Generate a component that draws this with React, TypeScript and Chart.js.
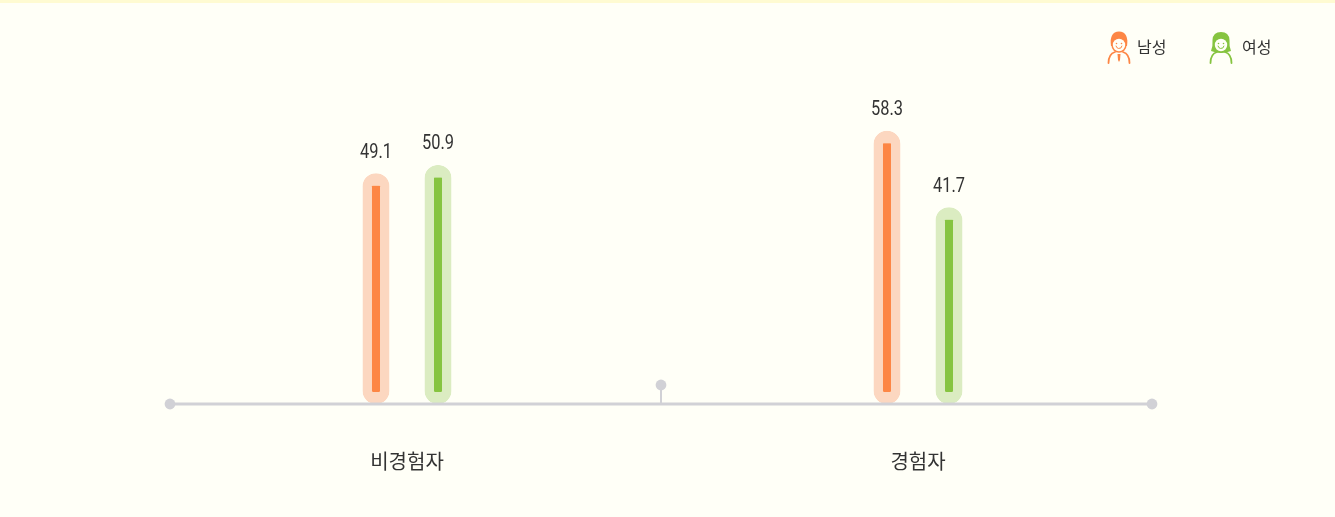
import React, { useEffect, useRef } from "react";
import { Chart, registerables } from "chart.js";

Chart.register(...registerables);

const categories = ["비경험자", "경험자"];
const maleValues = [49.1, 58.3];
const femaleValues = [50.9, 41.7];
const seriesNames = ["남성", "여성"];

const BG = "#FFFFF7";
const BAND = "#FFFBD2";
const AXIS = "#D1D1D6";
const TEXT = "#333333";
const ORANGE = "#FD8645";
const ORANGE_PALE = "#FCD7C0";
const GREEN = "#86C440";
const GREEN_PALE = "#DBECC1";
const KR = '"Noto Sans CJK KR", "Noto Sans", sans-serif';
const NUM = 'Roboto, sans-serif';

function drawPerson(ctx: CanvasRenderingContext2D, cx: number, color: string, female: boolean) {
  ctx.save();
  ctx.strokeStyle = color;
  ctx.fillStyle = color;
  ctx.lineWidth = 1.8;
  ctx.lineCap = "round";
  // body
  ctx.beginPath();
  ctx.moveTo(cx - 10.5, 63);
  ctx.quadraticCurveTo(cx - 10.5, 54, cx - 4, 52);
  ctx.moveTo(cx + 10.5, 63);
  ctx.quadraticCurveTo(cx + 10.5, 54, cx + 4, 52);
  ctx.stroke();
  // hair
  ctx.beginPath();
  if (female) {
    ctx.moveTo(cx - 10, 51);
    ctx.quadraticCurveTo(cx - 8, 46, cx - 8.5, 40);
    ctx.quadraticCurveTo(cx - 8, 32, cx, 32);
    ctx.quadraticCurveTo(cx + 8, 32, cx + 8.5, 40);
    ctx.quadraticCurveTo(cx + 8, 46, cx + 10, 51);
    ctx.quadraticCurveTo(cx, 55, cx - 10, 51);
  } else {
    ctx.moveTo(cx - 8, 46);
    ctx.quadraticCurveTo(cx - 10, 32, cx, 31.5);
    ctx.quadraticCurveTo(cx + 10, 32, cx + 8, 46);
    ctx.closePath();
  }
  ctx.fill();
  // face
  ctx.beginPath();
  ctx.ellipse(cx, 45, 7.6, 7.8, 0, 0, Math.PI * 2);
  ctx.fillStyle = color;
  ctx.fill();
  ctx.fillStyle = BG;
  ctx.beginPath();
  ctx.ellipse(cx, 45, 6.2, 6.2, 0, 0, Math.PI * 2);
  ctx.fill();
  ctx.fillStyle = color;
  ctx.beginPath();
  ctx.arc(cx - 2.5, 43.5, 0.8, 0, Math.PI * 2);
  ctx.arc(cx + 2.5, 43.5, 0.8, 0, Math.PI * 2);
  ctx.fill();
  ctx.lineWidth = 1;
  ctx.beginPath();
  ctx.arc(cx, 45.5, 3, 0.2, Math.PI - 0.2);
  ctx.stroke();
  if (!female) {
    ctx.beginPath();
    ctx.moveTo(cx - 1.5, 54);
    ctx.lineTo(cx + 1.5, 54);
    ctx.lineTo(cx + 1, 60);
    ctx.lineTo(cx, 62);
    ctx.lineTo(cx - 1, 60);
    ctx.closePath();
    ctx.fill();
  }
  ctx.restore();
}

const decor = {
  id: "decor",
  beforeDraw(chart: any) {
    const { ctx, width, height } = chart;
    ctx.save();
    ctx.fillStyle = BG;
    ctx.fillRect(0, 0, width, height);
    ctx.fillStyle = BAND;
    ctx.fillRect(0, 0, width, 3);
    ctx.restore();
  },
  afterDatasetsDraw(chart: any) {
    const { ctx, chartArea } = chart;
    const y = chartArea.bottom;
    const left = chartArea.left + 18.5;
    const right = chartArea.right - 21.5;
    const mid = (left + right) / 2;
    ctx.save();
    ctx.strokeStyle = AXIS;
    ctx.fillStyle = AXIS;
    ctx.lineWidth = 3;
    ctx.beginPath();
    ctx.moveTo(left, y);
    ctx.lineTo(right, y);
    ctx.stroke();
    ctx.lineWidth = 2;
    ctx.beginPath();
    ctx.moveTo(mid, y);
    ctx.lineTo(mid, y - 19);
    ctx.stroke();
    for (const [px, py] of [[left, y], [right, y], [mid, y - 19]]) {
      ctx.beginPath();
      ctx.arc(px, py, 5.4, 0, Math.PI * 2);
      ctx.fill();
    }
    // value labels (the reference uses a condensed numeral face)
    ctx.fillStyle = TEXT;
    ctx.font = `20px ${NUM}`;
    ctx.textAlign = "center";
    ctx.textBaseline = "middle";
    chart.data.datasets.forEach((ds: any, i: number) => {
      chart.getDatasetMeta(i).data.forEach((el: any, j: number) => {
        ctx.save();
        ctx.translate(el.x, el.y - 20.5);
        ctx.scale(0.82, 1);
        ctx.fillText(ds.data[j].toFixed(1), 0, 0);
        ctx.restore();
      });
    });
    // legend
    drawPerson(ctx, 1119, ORANGE, false);
    drawPerson(ctx, 1221, GREEN, true);
    ctx.fillStyle = TEXT;
    ctx.font = `16px ${KR}`;
    ctx.textAlign = "left";
    ctx.fillText(seriesNames[0], 1137, 47);
    ctx.fillText(seriesNames[1], 1242, 47);
    ctx.restore();
  },
};

export default function App() {
  const ref = useRef<HTMLCanvasElement>(null);
  useEffect(() => {
    document.body.style.margin = "0";
    const barStyle = {
      base: -1,
      borderSkipped: false as const,
      borderRadius: 13,
      borderWidth: { top: 12.5, bottom: 12, left: 9.5, right: 9.5 },
      inflateAmount: 0,
    };
    const chart = new Chart(ref.current!, {
      type: "bar",
      data: {
        labels: categories,
        datasets: [
          { label: seriesNames[0], data: maleValues, backgroundColor: ORANGE, borderColor: ORANGE_PALE, ...barStyle },
          { label: seriesNames[1], data: femaleValues, backgroundColor: GREEN, borderColor: GREEN_PALE, ...barStyle },
        ],
      },
      options: {
        responsive: false,
        animation: false,
        events: [],
        layout: { padding: { top: 123, bottom: 0, left: 151.5, right: 161.5 } },
        categoryPercentage: 0.2427,
        barPercentage: 0.4355,
        plugins: { legend: { display: false }, tooltip: { enabled: false }, title: { display: false } },
        scales: {
          x: {
            afterFit(scale: any) {
              scale.height = 113;
            },
            grid: { display: false },
            border: { display: false },
            ticks: { padding: 37, color: TEXT, font: { family: KR, size: 20 }, maxRotation: 0 },
          },
          y: { display: false, min: -1, max: 60, stacked: false },
        },
      } as any,
      plugins: [decor],
    });
    return () => chart.destroy();
  }, []);
  return <canvas ref={ref} width={1335} height={517} style={{ display: "block", width: 1335, height: 517 }} />;
}
